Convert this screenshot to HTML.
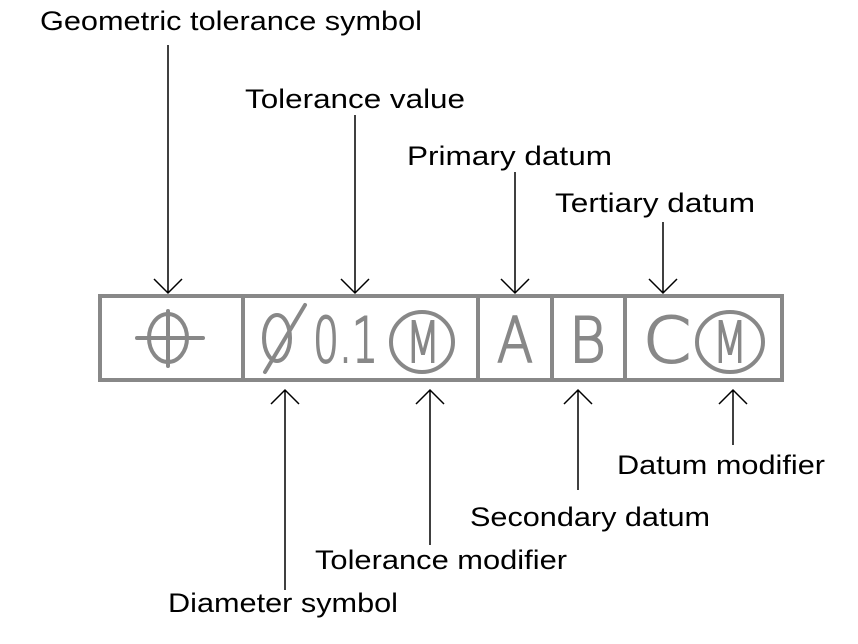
<!DOCTYPE html>
<html><head><meta charset="utf-8"><style>
html,body{margin:0;padding:0;background:#fff;}
svg{display:block;}
</style></head><body>
<svg width="858" height="644" viewBox="0 0 858 644" xmlns="http://www.w3.org/2000/svg">
<g fill="#000" font-family="Liberation Sans, Arial, sans-serif" font-size="27">
<text x="40" y="30" textLength="382" lengthAdjust="spacingAndGlyphs">Geometric tolerance symbol</text>
<text x="245" y="108" textLength="220" lengthAdjust="spacingAndGlyphs">Tolerance value</text>
<text x="407" y="165" textLength="205" lengthAdjust="spacingAndGlyphs">Primary datum</text>
<text x="555" y="212" textLength="200" lengthAdjust="spacingAndGlyphs">Tertiary datum</text>
<text x="617" y="474" textLength="208" lengthAdjust="spacingAndGlyphs">Datum modifier</text>
<text x="470" y="526" textLength="240" lengthAdjust="spacingAndGlyphs">Secondary datum</text>
<text x="315" y="569" textLength="252" lengthAdjust="spacingAndGlyphs">Tolerance modifier</text>
<text x="168" y="612" textLength="230" lengthAdjust="spacingAndGlyphs">Diameter symbol</text>
</g>
<g stroke="#000" stroke-width="1.5" fill="none">
<path d="M168 45V293M154 279L168 293L182 279"/>
<path d="M355 115V293M341 279L355 293L369 279"/>
<path d="M515 172V293M501 279L515 293L529 279"/>
<path d="M663 222V293M649 279L663 293L677 279"/>
<path d="M285 590V390M271 404L285 390L299 404"/>
<path d="M430 545V390M416 404L430 390L444 404"/>
<path d="M578 490V390M564 404L578 390L592 404"/>
<path d="M733 445V390M719 404L733 390L747 404"/>
</g>
<g stroke="#888" stroke-width="4" fill="none" stroke-linecap="round">
<rect x="100" y="296" width="682" height="84" stroke-linecap="butt"/>
<path d="M243 296V380M478 296V380M552 296V380M625 296V380" stroke-linecap="butt"/>
<path d="M137 338H203M168 311V366"/>
<ellipse cx="168" cy="338" rx="19" ry="24"/>
<ellipse cx="277" cy="338" rx="13" ry="23"/>
<path d="M305 305L265 372"/>
<ellipse cx="422" cy="342" rx="31" ry="30"/>
<ellipse cx="730" cy="342" rx="33" ry="30"/>
</g>
<g fill="#888" stroke="#888" stroke-width="2" font-family="DejaVu Sans, Liberation Sans, sans-serif" font-weight="200" font-size="62">
<text x="313" y="362" textLength="65" lengthAdjust="spacingAndGlyphs">0.1</text>
<text x="406" y="362" font-size="56" textLength="34" lengthAdjust="spacingAndGlyphs">M</text>
<text x="713" y="362" font-size="56" textLength="34" lengthAdjust="spacingAndGlyphs">M</text>
<text x="497" y="362" textLength="36" lengthAdjust="spacingAndGlyphs">A</text>
<text x="569" y="362" textLength="37" lengthAdjust="spacingAndGlyphs">B</text>
<text x="643" y="362" textLength="48" lengthAdjust="spacingAndGlyphs">C</text>
</g>
</svg>
</body></html>
